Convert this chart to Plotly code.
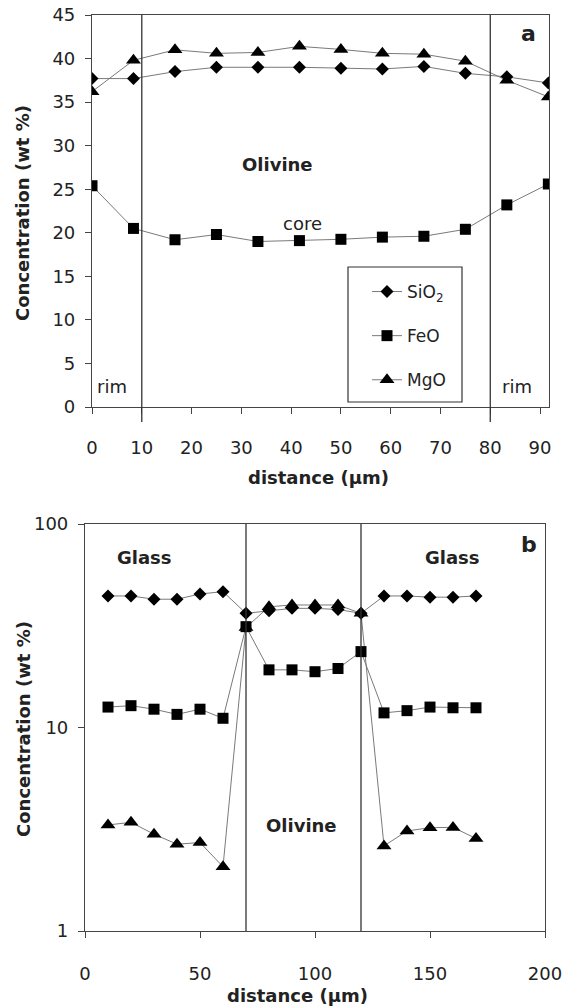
import plotly.graph_objects as go

W, H = 575, 1006

# ---------------- Panel a data ----------------
dist_a = [0, 8.33, 16.67, 25, 33.33, 41.67, 50, 58.33, 66.67, 75, 83.33, 91.67]
sio2_a = [37.7, 37.7, 38.5, 39.0, 39.0, 39.0, 38.9, 38.8, 39.1, 38.3, 37.9, 37.2]
feo_a = [25.4, 20.5, 19.2, 19.8, 19.0, 19.1, 19.25, 19.5, 19.6, 20.4, 23.2, 25.6]
mgo_a = [36.2, 39.8, 41.0, 40.6, 40.7, 41.4, 41.05, 40.6, 40.5, 39.7, 37.5, 35.6]
xticks_a = [0, 10, 20, 30, 40, 50, 60, 70, 80, 90]
yticks_a = [0, 5, 10, 15, 20, 25, 30, 35, 40, 45]
bounds_a = [10, 80]

# ---------------- Panel b data ----------------
dist_b = [10, 20, 30, 40, 50, 60, 70, 80, 90, 100, 110, 120, 130, 140, 150, 160, 170]
sio2_b = [44.3, 44.3, 42.7, 42.7, 45.3, 46.5, 36.4, 37.5, 38.5, 38.5, 38.0, 36.4, 44.3, 44.3, 43.7, 43.7, 44.3]
feo_b = [12.6, 12.8, 12.3, 11.6, 12.3, 11.1, 31.3, 19.2, 19.2, 18.8, 19.5, 23.6, 11.8, 12.1, 12.6, 12.5, 12.5]
mgo_b = [3.32, 3.42, 2.99, 2.67, 2.72, 2.07, 31.0, 39.2, 40.0, 40.0, 40.0, 36.4, 2.62, 3.10, 3.22, 3.23, 2.85]
xticks_b = [0, 50, 100, 150, 200]
yticks_b = [1, 10, 100]
bounds_b = [70, 120]

FONT = "DejaVu Sans"
LINE = "#7a7a7a"
AX = "#444444"

def px(x):
    return x / W

def py(y):
    return 1 - y / H

fig = go.Figure()

def add(x, y, name, symbol, size, xa, ya, legend):
    fig.add_trace(go.Scatter(
        x=x, y=y, name=name, mode="lines+markers",
        line=dict(color=LINE, width=1),
        marker=dict(symbol=symbol, size=size, color="black"),
        xaxis=xa, yaxis=ya, showlegend=legend, legendgroup=name,
    ))

add(dist_a, sio2_a, "SiO<sub>2</sub>", "diamond", 10, "x", "y", True)
add(dist_a, feo_a, "FeO", "square", 11, "x", "y", True)
add(dist_a, mgo_a, "MgO", "triangle-up", 13, "x", "y", True)

add(dist_b, mgo_b, "MgO", "triangle-up", 13, "x2", "y2", False)
add(dist_b, sio2_b, "SiO<sub>2</sub>", "diamond", 10, "x2", "y2", False)
add(dist_b, feo_b, "FeO", "square", 11, "x2", "y2", False)

common = dict(showgrid=False, zeroline=False, showline=True, linecolor=AX, linewidth=1.2,
              mirror=True, ticks="outside", tickcolor=AX, tickwidth=1.2, automargin=False,
              tickfont=dict(family=FONT, size=18, color="#222"))

fig.update_layout(
    width=W, height=H,
    margin=dict(l=0, r=0, t=0, b=0, pad=0),
    paper_bgcolor="white", plot_bgcolor="white",
    font=dict(family=FONT, color="#222"),
    xaxis=dict(domain=[px(92), px(549)], range=[0, 91.8], tickvals=xticks_a,
               ticklen=6, ticklabelstandoff=18, anchor="y", **common),
    yaxis=dict(domain=[py(407), py(15)], range=[0, 45], tickvals=yticks_a,
               ticklen=6, ticklabelstandoff=6, anchor="x", **common),
    xaxis2=dict(domain=[px(85), px(545)], range=[0, 200], tickvals=xticks_b,
                ticklen=6, ticklabelstandoff=20, anchor="y2", **common),
    yaxis2=dict(domain=[py(931), py(524)], type="log", range=[0, 2], tickvals=yticks_b,
                ticktext=[str(v) for v in yticks_b],
                ticklen=6, ticklabelstandoff=6, anchor="x2", **common),
    legend=dict(x=px(367), y=py(274), xanchor="left", yanchor="top",
                bgcolor="rgba(0,0,0,0)", borderwidth=0,
                font=dict(family=FONT, size=17, color="#222"),
                tracegroupgap=19, itemwidth=30),
)

shapes = []
for b in bounds_a:
    shapes.append(dict(type="line", xref="x", yref="paper", x0=b, x1=b,
                       y0=py(422), y1=py(15), line=dict(color="#333", width=1.3)))
for b in bounds_b:
    shapes.append(dict(type="line", xref="x2", yref="paper", x0=b, x1=b,
                       y0=py(931), y1=py(524), line=dict(color="#333", width=1.3)))
# legend frame
shapes.append(dict(type="rect", xref="paper", yref="paper", x0=px(348), x1=px(462),
                   y0=py(402), y1=py(267), line=dict(color="#333", width=1.2)))
fig.update_layout(shapes=shapes)

ann = []
def text(x, y, s, xref, yref, size=18, bold=False, **kw):
    ann.append(dict(x=x, y=y, xref=xref, yref=yref, text=(f"<b>{s}</b>" if bold else s),
                    xanchor="center", yanchor="middle",
                    showarrow=False, font=dict(family=FONT, size=size, color="#222"), **kw))

# Panel a labels
text(37.3, 27.8, "Olivine", "x", "y", bold=True)
text(42.2, 21.1, "core", "x", "y", bgcolor="white", borderpad=0)
text(4.0, 2.3, "rim", "x", "y")
text(85.4, 2.3, "rim", "x", "y")
text(87.6, 42.9, "a", "x", "y", size=22, bold=True)
# Panel b labels
text(26, 1.833, "Glass", "x2", "y2", bold=True)
text(159.6, 1.833, "Glass", "x2", "y2", bold=True)
text(193, 1.897, "b", "x2", "y2", size=22, bold=True)
text(94.3, 0.516, "Olivine", "x2", "y2", bold=True)
# axis titles
text(px(318), py(478), "distance (µm)", "paper", "paper", bold=True)
text(px(297), py(995), "distance (µm)", "paper", "paper", bold=True)
text(px(23), py(213), "Concentration (wt %)", "paper", "paper", bold=True, textangle=-90)
text(px(23), py(729), "Concentration (wt %)", "paper", "paper", bold=True, textangle=-90)
fig.update_layout(annotations=ann)

fig.write_html("out.html")
